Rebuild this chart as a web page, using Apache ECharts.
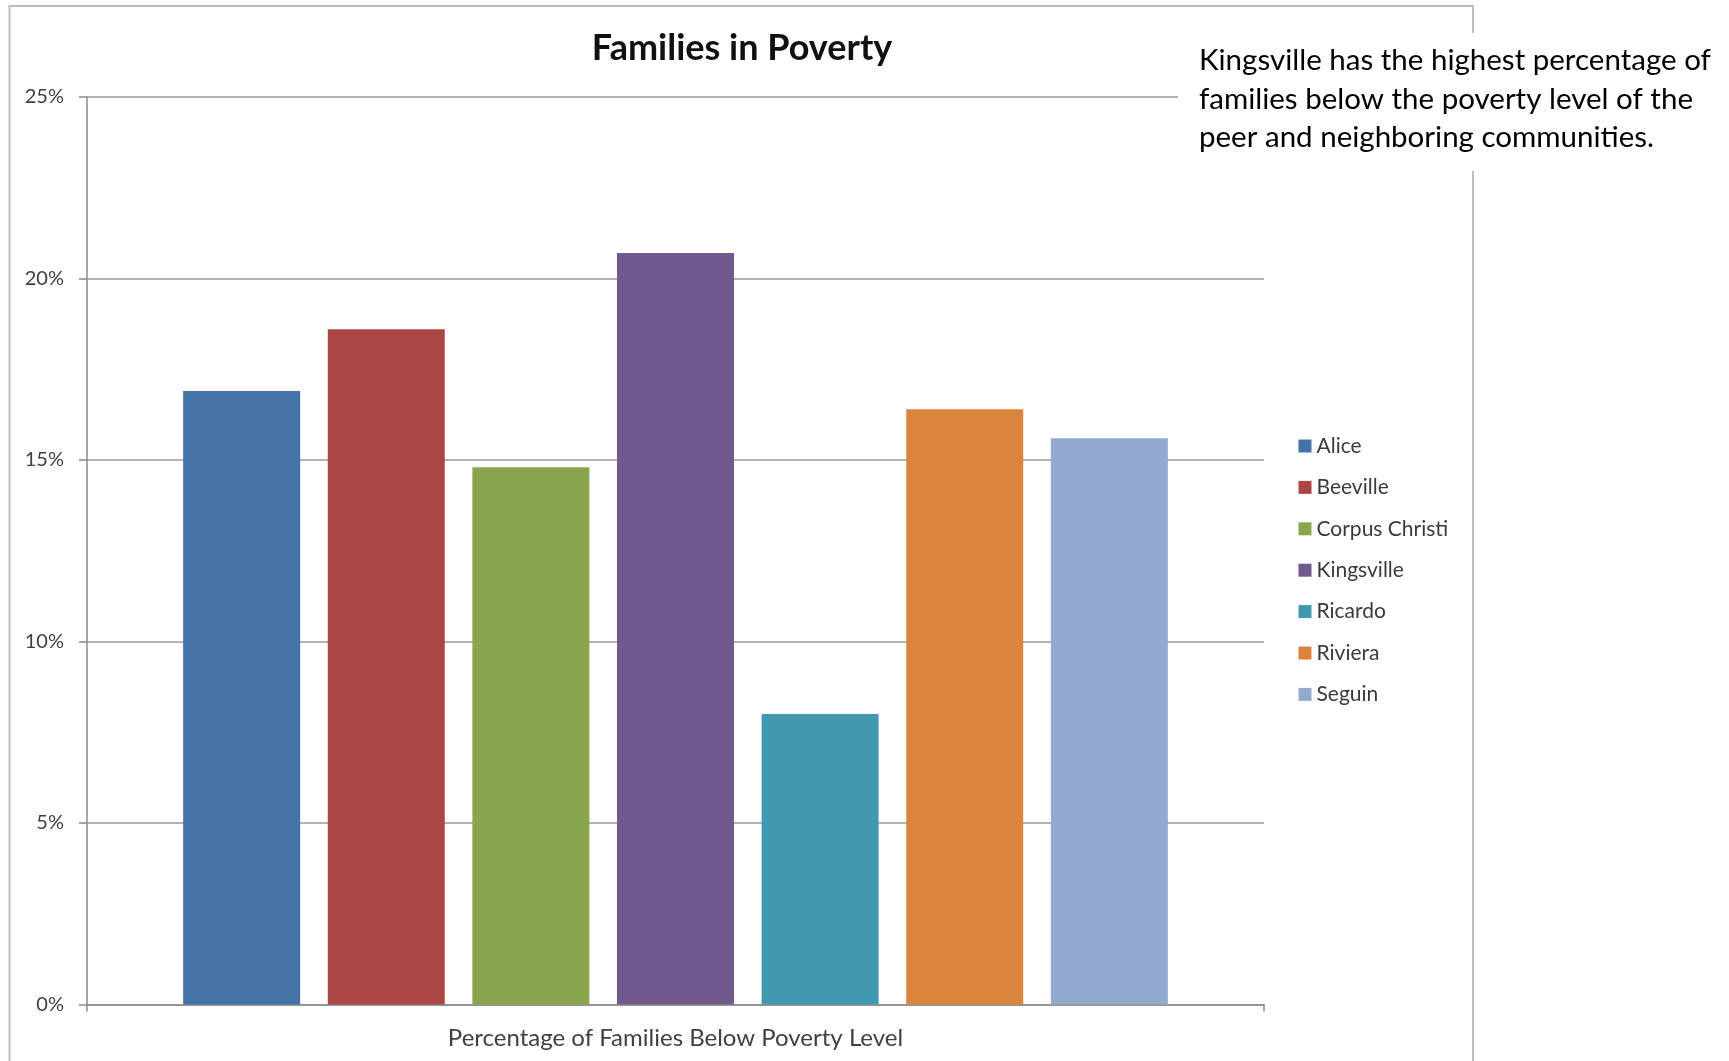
<!DOCTYPE html>
<html>
<head>
<meta charset="utf-8">
<script src="https://cdn.jsdelivr.net/npm/echarts@6/dist/echarts.min.js"></script>
<style>
html,body{margin:0;padding:0;background:#fff;}
#chart{width:1729px;height:1061px;}
</style>
</head>
<body>
<div id="chart"></div>
<script>
var categories = ['Percentage of Families Below Poverty Level'];
var seriesNames = ['Alice', 'Beeville', 'Corpus Christi', 'Kingsville', 'Ricardo', 'Riviera', 'Seguin'];
var seriesValues = [0.169, 0.186, 0.148, 0.207, 0.080, 0.164, 0.156];
var seriesColors = ['#4572A7', '#AA4643', '#89A54E', '#71588F', '#4198AF', '#DB843D', '#93A9CF'];
var yTicks = { min: 0, max: 0.25, interval: 0.05 };
var titleText = 'Families in Poverty';
var noteLines = ['Kingsville has the highest percentage of', 'families below the poverty level of the', 'peer and neighboring communities.'];

var FONT = 'Lato, "Open Sans", sans-serif';
var chart = echarts.init(document.getElementById('chart'));

var series = seriesNames.map(function (n, i) {
  return {
    name: n,
    type: 'bar',
    data: [seriesValues[i]],
    barWidth: 117,
    barGap: '23.6%',
    itemStyle: { color: seriesColors[i] },
    emphasis: { disabled: true }
  };
});

chart.setOption({
  animation: false,
  backgroundColor: '#fff',
  textStyle: { fontFamily: FONT },
  color: seriesColors,
  title: {
    text: titleText,
    left: 737,
    top: 25,
    textAlign: 'center',
    textStyle: { fontFamily: FONT, fontWeight: 'bold', fontSize: 36, color: '#111' }
  },
  grid: { left: 87, right: 465, top: 97, bottom: 56.5, containLabel: false },
  xAxis: {
    type: 'category',
    data: categories,
    axisLine: { lineStyle: { color: '#8c8c8c', width: 1.5 } },
    axisTick: { show: true, length: 7, lineStyle: { color: '#8c8c8c', width: 1.5 } },
    axisLabel: { margin: 22, fontSize: 24, color: '#404040', fontFamily: FONT }
  },
  yAxis: {
    type: 'value',
    min: yTicks.min,
    max: yTicks.max,
    interval: yTicks.interval,
    axisLine: { show: true, lineStyle: { color: '#8c8c8c', width: 1.5 } },
    axisTick: { show: true, length: 8, lineStyle: { color: '#8c8c8c', width: 1.5 } },
    axisLabel: {
      margin: 23, fontSize: 20, color: '#404040', fontFamily: FONT,
      formatter: function (v) { return Math.round(v * 100) + '%'; }
    },
    splitLine: { show: true, lineStyle: { color: '#9a9a9a', width: 1.5 } }
  },
  legend: {
    orient: 'vertical',
    left: 1293.5,
    top: 430,
    itemWidth: 13,
    itemHeight: 13,
    itemGap: 19.4,
    icon: 'rect',
    data: seriesNames,
    selectedMode: false,
    textStyle: { fontSize: 21, color: '#3a3a3a', lineHeight: 22, fontFamily: FONT }
  },
  graphic: [
    {
      type: 'rect', z: 0, silent: true,
      shape: { x: 9.5, y: 6, width: 1463.5, height: 1100 },
      style: { fill: 'none', stroke: '#bdbdbd', lineWidth: 2 }
    },
    {
      type: 'rect', z: 100, silent: true,
      shape: { x: 1178, y: 33, width: 560, height: 138 },
      style: { fill: '#fff' }
    },
    {
      type: 'text', z: 101, silent: true,
      x: 1199, y: 41.5,
      style: { text: noteLines.join('\n'), font: '29.5px ' + FONT, lineHeight: 38.5, fill: '#000' }
    }
  ],
  series: series
});
</script>
</body>
</html>
